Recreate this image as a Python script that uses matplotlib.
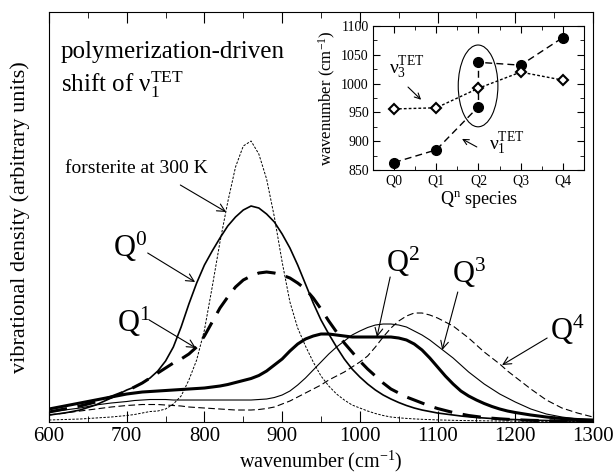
import numpy as np
import matplotlib
matplotlib.use('Agg')
import matplotlib.pyplot as plt
from matplotlib.patches import Ellipse
from matplotlib.ticker import MultipleLocator

plt.rcParams['font.family'] = ['Liberation Serif', 'DejaVu Serif']
plt.rcParams['mathtext.fontset'] = 'custom'
plt.rcParams['mathtext.rm'] = 'Liberation Serif'
plt.rcParams['mathtext.it'] = 'Liberation Serif:italic'

# wavenumber grid (cm^-1): coarse at the ends, finer in the middle
wn = np.r_[600:700:20, 700:1200:10, 1200:1301:20]

# curves (arbitrary units)
forsterite = [2, 2.5, 3, 4, 5,
              6.5, 7.5, 9, 10.5, 11, 13, 18, 26, 42, 62,
              92, 135, 180, 220, 255, 276, 281, 268, 243, 205,
              160, 120, 94, 76, 60, 46, 36, 28, 22, 17,
              14, 11, 8.5, 6.5, 5, 4.2, 3.6, 3.1, 2.7, 2.4,
              2.1, 1.9, 1.7, 1.5, 1.4, 1.3, 1.2, 1.1, 1.0, 1.0,
              0.9, 0.8, 0.7, 0.6, 0.5, 0.5]
q0 = [7, 9, 12, 17, 24,
      32, 35, 39, 44, 51, 61, 75, 95, 118, 139,
      157, 171, 184, 196, 205, 212, 216, 214, 208, 200,
      188, 174, 157, 138, 119, 102, 88, 75, 63, 53,
      45, 38, 32, 27, 23, 19.5, 16.5, 14, 12, 10.5,
      9, 8, 7, 6, 5.2, 4.5, 4, 3.5, 3, 2.7,
      2.4, 1.9, 1.5, 1.2, 1.0, 0.8]
q1 = [10, 13, 16, 20, 25,
      31, 35, 39, 44, 49, 54, 59, 63, 68, 75,
      86, 100, 114, 125, 135, 142, 146, 149, 150, 149,
      147, 144, 139, 133, 124, 113, 101, 90, 79, 70,
      61, 53, 46, 39, 33, 29, 25, 22, 19, 16,
      13.5, 11.5, 9.5, 8, 6.5, 5.5, 4.5, 3.8, 3.2, 2.7,
      2.3, 1.7, 1.3, 1.0, 0.8, 0.6]
q2 = [13, 16, 19, 22, 25,
      28, 29, 30, 30.5, 31, 31.5, 32, 32.5, 33, 33.5,
      34, 35, 36, 37.5, 39.5, 41.5, 43.5, 46.5, 51, 57,
      63, 71, 78, 83, 86, 88, 88, 87, 86, 85,
      85, 85, 85, 85, 85, 84, 82, 78, 72, 64,
      55, 46, 38, 31, 26, 22, 18.5, 15.5, 13, 11,
      9.5, 7, 5, 3.5, 2.5, 2]
q3 = [10, 12, 14, 17, 19,
      20.5, 21.5, 22, 22.5, 22.5, 22.5, 22, 22, 22, 22,
      22, 22, 22, 22, 22, 22, 22, 22.5, 23, 24.5,
      27, 31, 37, 44, 52, 60, 68, 75, 81, 87,
      91, 94.5, 97, 98, 98, 97, 95, 91, 87, 82,
      76, 70, 64, 57, 50, 44, 38, 33, 28, 24,
      20, 13, 8, 5, 3, 2]
q4 = [7, 9, 11, 13, 15,
      16.5, 17, 17.5, 17.5, 17.5, 17, 16.5, 16, 15, 14.5,
      14, 13.5, 13, 12.5, 12, 12, 12, 12.5, 13.5, 15,
      18, 21, 25, 29, 33, 37, 42, 46, 50, 55,
      60, 66, 75, 85, 94, 101, 106, 109, 109, 107,
      104, 100, 96, 90, 84, 77, 70, 64, 58, 51,
      45, 33, 22, 14, 9, 5]

# inset: peak positions per Q^n species
species = ['Q0', 'Q1', 'Q2', 'Q3', 'Q4']
nu1_x = [0, 1, 2, 2, 3, 4]
nu1_y = [863, 885, 960, 1037, 1032, 1080]
nu3_y = [956, 958, 992, 1020, 1006]

fig = plt.figure(figsize=(6.14, 4.73), dpi=100)
ax = fig.add_axes([0.0798, 0.1078, 0.886, 0.8668])

ax.plot(wn, forsterite, color='k', lw=0.7, dashes=(2.5, 1.5))
ax.plot(wn, q0, color='k', lw=1.2)
ax.plot(wn, q1, color='k', lw=2.2, dashes=(6, 3.5))
ax.plot(wn, q2, color='k', lw=2.2)
ax.plot(wn, q3, color='k', lw=0.8)
ax.plot(wn, q4, color='k', lw=0.8, dashes=(6, 3))

ax.set_xlim(600, 1300)
ax.set_ylim(0, 410)
ax.set_yticks([])
ax.xaxis.set_major_locator(MultipleLocator(100))
ax.xaxis.set_minor_locator(MultipleLocator(50))
ax.tick_params(axis='x', which='both', direction='in', top=True, labelsize=15)
ax.tick_params(axis='x', which='major', length=8)
ax.tick_params(axis='x', which='minor', length=4)
ax.set_xlabel('wavenumber (cm$^{-1}$)', fontsize=14.5, labelpad=2)
ax.set_ylabel('vibrational density (arbitrary units)', fontsize=16, labelpad=14)

ax.text(615, 364, 'polymerization-driven', fontsize=18)
ax.text(615, 330, 'shift of ν$_{1}^{\\mathrm{TET}}$', fontsize=18)
ax.text(620, 249, 'forsterite at 300 K', fontsize=14)

arr = dict(arrowstyle='->', color='k', lw=0.8, shrinkA=0, shrinkB=0, mutation_scale=14)
ax.annotate('', xy=(828, 210), xytext=(769, 237), arrowprops=arr)

qlabels = ['Q$^{0}$', 'Q$^{1}$', 'Q$^{2}$', 'Q$^{3}$', 'Q$^{4}$']
qtext = [(682, 165), (688, 90), (1033, 150), (1118, 139), (1245, 82)]
qstart = [(727, 169), (729, 102), (1039, 145), (1126, 130), (1241, 84)]
qtip = [(788, 140), (789, 74), (1022, 85), (1106, 72), (1183, 57)]
for lab, t, s, p in zip(qlabels, qtext, qstart, qtip):
    ax.text(t[0], t[1], lab, fontsize=22)
    ax.annotate('', xy=p, xytext=s, arrowprops=arr)

# inset
ins = fig.add_axes([0.6075, 0.6406, 0.3436, 0.3044])
ins.plot(nu1_x, nu1_y, color='k', lw=1.0, dashes=(5, 3), marker='o', ms=7, mfc='k', mec='k')
ins.plot(range(len(species)), nu3_y, color='k', lw=1.0, dashes=(2, 1.5), marker='D', ms=5,
         mfc='white', mec='k', mew=1.5)
ins.add_patch(Ellipse((1.99, 996), 0.94, 142, fill=False, ec='k', lw=0.8))
ins.set_xlim(-0.5, 4.5)
ins.set_ylim(850, 1100)
ins.set_xticks(range(len(species)))
ins.set_xticklabels(species)
ins.xaxis.set_minor_locator(MultipleLocator(0.5))
ins.yaxis.set_major_locator(MultipleLocator(50))
ins.yaxis.set_minor_locator(MultipleLocator(25))
ins.tick_params(which='both', direction='in', top=True, right=True, labelsize=10, pad=3)
ins.tick_params(which='major', length=5)
ins.tick_params(which='minor', length=3)
ins.set_xlabel('Q$^{\\mathrm{n}}$ species', fontsize=13, labelpad=1)
ins.set_ylabel('wavenumber (cm$^{-1}$)', fontsize=12, labelpad=2)

ins.text(-0.12, 1018, 'ν$_{3}^{\\mathrm{TET}}$', fontsize=14)
ins.text(2.25, 885, 'ν$_{1}^{\\mathrm{TET}}$', fontsize=14)
arr2 = dict(arrowstyle='->', color='k', lw=0.8, shrinkA=0, shrinkB=0, mutation_scale=10)
ins.annotate('', xy=(0.64, 972), xytext=(0.33, 994), arrowprops=arr2)
ins.annotate('', xy=(1.61, 904), xytext=(1.96, 890), arrowprops=arr2)

fig.savefig('out.png', dpi=100)
